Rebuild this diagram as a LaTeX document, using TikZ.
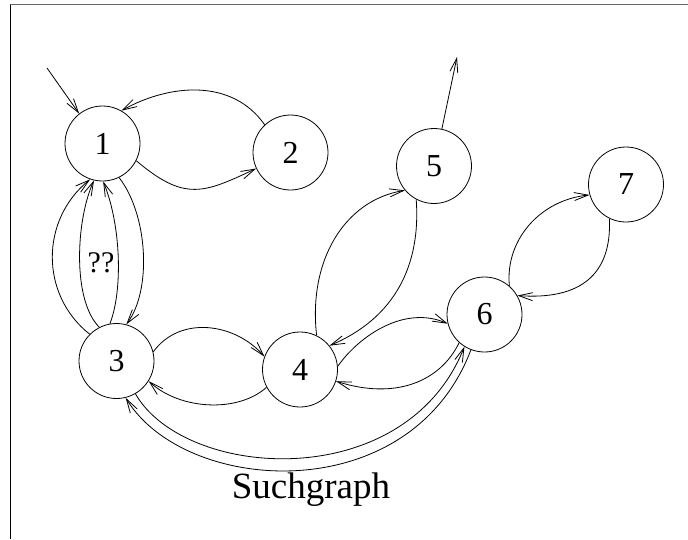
\documentclass[tikz,border=0pt]{standalone}
\usepackage{fontspec}
\setmainfont{Liberation Serif}
\usetikzlibrary{arrows.meta}
\begin{document}
\begin{tikzpicture}[x=1pt,y=-1pt,
  state/.style={circle,draw,line width=0.8pt,minimum size=75pt,inner sep=0pt,
    font=\fontsize{32}{38}\selectfont},
  edge/.style={line width=0.8pt,
    -{Straight Barb[length=14pt,width=8pt,line width=0.8pt]}},
  caption/.style={font=\fontsize{37}{44}\selectfont},
  edgelabel/.style={font=\fontsize{30}{36}\selectfont}
 ]
\useasboundingbox (0,0) rectangle (688,539);
% frame
\draw[black!60,line width=1pt] (688,4.7) -- (10,4.7);
\draw[line width=1pt] (10,4.7) -- (10,539);

% states
\node[state] (n1) at (102.5,143.5) {1};
\node[state] (n2) at (290.5,152.5) {2};
\node[state] (n3) at (116.5,361) {3};
\node[state] (n4) at (300,369.5) {4};
\node[state] (n5) at (434,166) {5};
\node[state] (n6) at (484.5,314.5) {6};
\node[state] (n7) at (626,184.5) {7};

\coordinate (in1) at (47,68);
\coordinate (out5) at (457,57);

% transitions
\draw[edge] (in1) -- (n1.128);
\draw[edge] (n2.133) .. controls (232,78) and (169,84) .. (n1.60);
\draw[edge] (n1.-27) .. controls (185,202) and (204,193) .. (n2.205);
\draw[edge] (n3.135) .. controls (40,295) and (40,220) .. (n1.-109);
\draw[edge] (n3.117) .. controls (72,300) and (76,220) .. (n1.-103);
\draw[edge] (n3.100) .. controls (123,290) and (121,225) .. (n1.-89);
\draw[edge] (n1.-64) .. controls (148,215) and (152,290) .. (n3.75);
\draw[edge] (n3.14) .. controls (180,315) and (235,323) .. (n4.160);
\draw[edge] (n4.208) .. controls (238,413) and (180,410) .. (n3.-32);
\draw[edge] (n4.64) .. controls (308,260) and (345,200) .. (n5.220);
\draw[edge] (n5.-118) .. controls (421,265) and (395,318) .. (n4.39);
\draw[edge] (n5.78) -- (out5);
\draw[edge] (n4.5) .. controls (360,335) and (405,305) .. (n6.194);
\draw[edge] (n6.-132) .. controls (440,382) and (395,400) .. (n4.-18);
\draw[edge] (n6.49) .. controls (505,240) and (540,200) .. (n7.196);
\draw[edge] (n7.-116) .. controls (612,275) and (580,300) .. (n6.30);
\draw[edge] (n3.-60) .. controls (185,480) and (405,495) .. (n6.-122);
\draw[edge] (n6.-111) .. controls (410,510) and (185,495) .. (n3.-76);

% labels
\node[edgelabel] (qq) at (101,263) {??};
\node[caption,anchor=base] (title) at (311,498) {Suchgraph};
\end{tikzpicture}
\end{document}
